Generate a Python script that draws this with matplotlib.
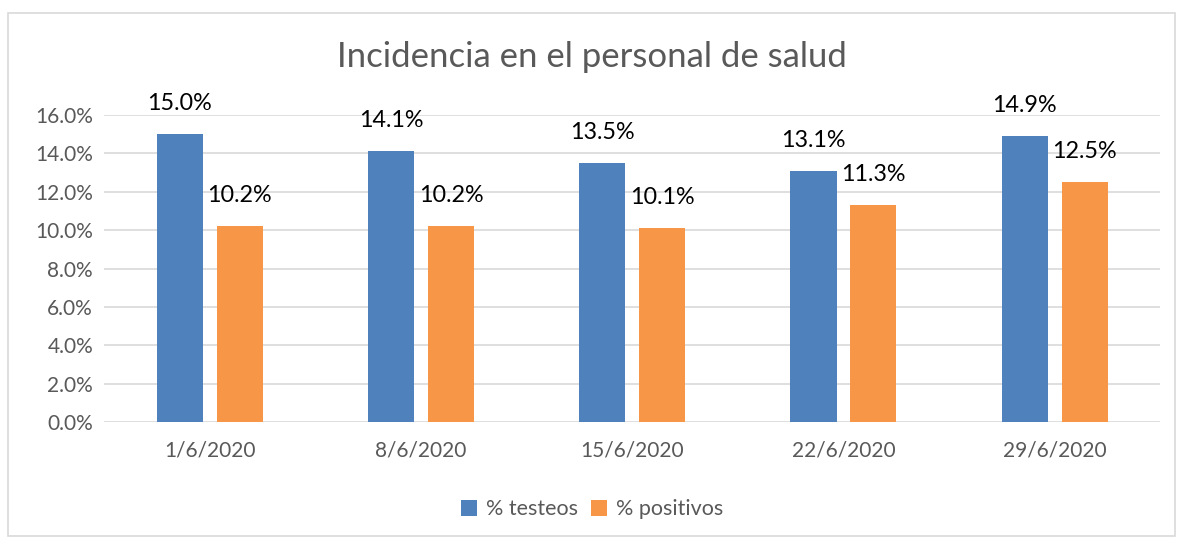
import numpy as np
import matplotlib
matplotlib.use("Agg")
import matplotlib.pyplot as plt
from matplotlib.patches import Rectangle
from matplotlib.ticker import FuncFormatter

fechas = ["1/6/2020", "8/6/2020", "15/6/2020", "22/6/2020", "29/6/2020"]
testeos = [15.0, 14.1, 13.5, 13.1, 14.9]
positivos = [10.2, 10.2, 10.1, 11.3, 12.5]

plt.rcParams['font.family'] = ['Lato', 'DejaVu Sans']

fig = plt.figure(figsize=(11.84, 5.40), dpi=100)
ax = fig.add_axes([0.088, 0.2185, 0.892, 0.5685])

# outer chart border
fig.patches.append(Rectangle((0.007, 0.008), 0.985, 0.968, transform=fig.transFigure,
                             fill=False, edgecolor="#d9d9d9", linewidth=1.2))

x = np.arange(len(fechas))
w = 0.218
off = 0.142
b1 = ax.bar(x - off, testeos, w, color="#4f81bd", label="% testeos", zorder=3)
b2 = ax.bar(x + off, positivos, w, color="#f79646", label="% positivos", zorder=3)

for bars, vals in ((b1, testeos), (b2, positivos)):
    for r, v in zip(bars, vals):
        ax.text(r.get_x() + r.get_width() / 2, v + 1.05, f"{v:.1f}%",
                ha="center", va="bottom", fontsize=16.8, color="black")

ax.set_xlim(-0.5, 4.5)
ax.set_ylim(0, 16)
ax.set_yticks(np.arange(0, 16.1, 2))
ax.yaxis.set_major_formatter(FuncFormatter(lambda v, p: f"{v:.1f}%"))
ax.set_xticks(x)
ax.set_xticklabels(fechas)
ax.grid(axis="y", color="#d9d9d9", linewidth=1.2, zorder=0)
for s in ax.spines.values():
    s.set_visible(False)
ax.tick_params(length=0, labelsize=15, colors="#595959", pad=8)
ax.tick_params(axis="x", pad=13)

fig.text(0.5, 0.895, "Incidencia en el personal de salud", ha="center", va="center",
         fontsize=25, color="#595959")

fig.legend(handles=[b1, b2], loc="center", bbox_to_anchor=(0.5, 0.057), ncol=2,
           frameon=False, fontsize=15.5, handlelength=0.75, handleheight=0.75,
           handletextpad=0.4, columnspacing=0.6, labelcolor="#595959")

fig.savefig("out.png", dpi=100)
